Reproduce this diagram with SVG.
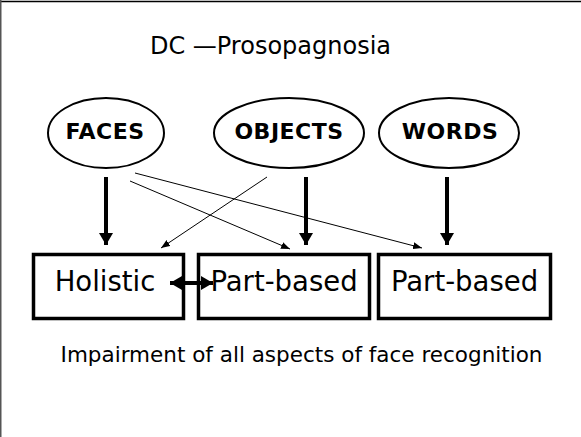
<svg xmlns="http://www.w3.org/2000/svg" width="581" height="437" viewBox="0 0 581 437">
<defs>
<style>
.t{font-family:"DejaVu Sans","Liberation Sans",sans-serif;fill:#000}
.lab{font-weight:bold;font-size:22px;text-anchor:middle;letter-spacing:0.5px}
.bt{font-size:27.5px;text-anchor:middle}
.box{fill:#fff;stroke:#000;stroke-width:3.5}
.ell{fill:#fff;stroke:#000;stroke-width:2}
.thick{stroke:#000;stroke-width:4;fill:none}
.thin{stroke:#000;stroke-width:1;fill:none}
</style>
<marker id="big" viewBox="0 0 12 14" refX="12" refY="7" markerWidth="12" markerHeight="14" markerUnits="userSpaceOnUse" orient="auto">
<path d="M0,0 L12,7 L0,14 Z" fill="#000"/>
</marker>
<marker id="bigs" viewBox="0 0 12 14" refX="0" refY="7" markerWidth="12" markerHeight="14" markerUnits="userSpaceOnUse" orient="auto">
<path d="M12,0 L0,7 L12,14 Z" fill="#000"/>
</marker>
<marker id="sm" viewBox="0 0 9 7" refX="9" refY="3.5" markerWidth="9" markerHeight="7" markerUnits="userSpaceOnUse" orient="auto">
<path d="M0,0 L9,3.5 L0,7 Z" fill="#000"/>
</marker>
</defs>
<rect width="581" height="437" fill="#fff"/>
<line x1="0" y1="1.5" x2="581" y2="1.5" stroke="#000" stroke-width="1.5"/>
<line x1="0.75" y1="0" x2="0.75" y2="437" stroke="#555" stroke-width="1.5"/>
<text class="t" x="270.5" y="54" font-size="24" text-anchor="middle">DC —Prosopagnosia</text>
<g id="faces"><ellipse class="ell" cx="106" cy="133" rx="58" ry="35"/><text class="t lab" x="105" y="139">FACES</text></g>
<g id="objects"><ellipse class="ell" cx="289" cy="133" rx="75" ry="35"/><text class="t lab" x="289" y="139">OBJECTS</text></g>
<g id="words"><ellipse class="ell" cx="449" cy="133" rx="70" ry="35"/><text class="t lab" x="450" y="139">WORDS</text></g>
<g id="holistic"><rect class="box" x="33.5" y="254.5" width="150" height="64"/><text class="t bt" x="105" y="291">Holistic</text></g>
<g id="partbased1"><rect class="box" x="198.5" y="254.5" width="171" height="64"/><text class="t bt" x="284" y="291">Part-based</text></g>
<g id="partbased2"><rect class="box" x="378.5" y="254.5" width="172" height="64"/><text class="t bt" x="464.5" y="291">Part-based</text></g>
<g id="connectors">
<line class="thick" x1="106" y1="177" x2="106" y2="245" marker-end="url(#big)"/>
<line class="thick" x1="306" y1="177" x2="306" y2="245" marker-end="url(#big)"/>
<line class="thick" x1="447" y1="177" x2="447" y2="245" marker-end="url(#big)"/>
<line class="thin" x1="135" y1="173" x2="422" y2="248" marker-end="url(#sm)"/>
<line class="thin" x1="130" y1="181" x2="290" y2="249" marker-end="url(#sm)"/>
<line class="thin" x1="267" y1="177" x2="161" y2="248" marker-end="url(#sm)"/>
<line class="thick" x1="170" y1="283" x2="213" y2="283" marker-start="url(#bigs)" marker-end="url(#big)"/>
</g>
<text class="t" x="301.5" y="362" font-size="21.5" text-anchor="middle">Impairment of all aspects of face recognition</text>
</svg>
